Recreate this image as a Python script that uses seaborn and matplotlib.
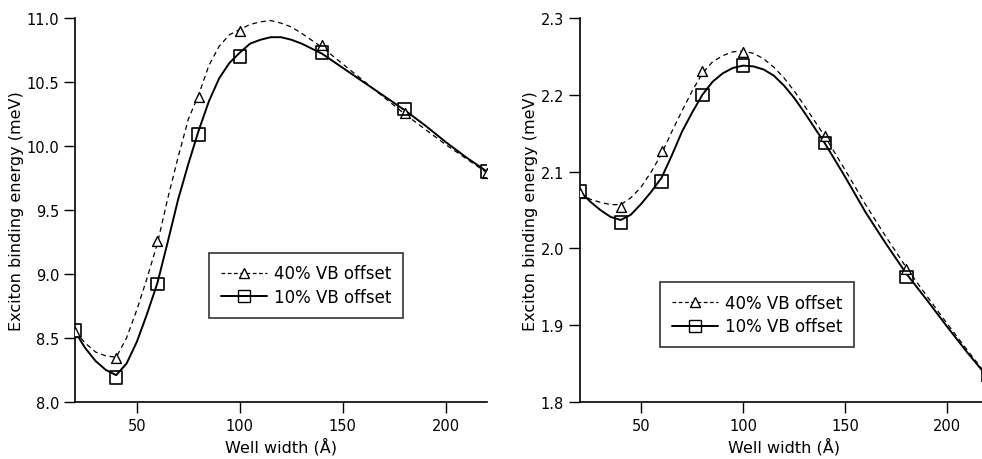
import numpy as np
import pandas as pd
import matplotlib
matplotlib.use("Agg")
import matplotlib.pyplot as plt
import seaborn as sns
from matplotlib.lines import Line2D

# --- data ---
# measured points (both panels use the same well widths)
well_width = [20, 40, 60, 80, 100, 140, 180, 220]

left_tri = [8.55, 8.34, 9.26, 10.38, 10.90, 10.79, 10.26, 9.79]   # 40% VB offset
left_sq = [8.56, 8.19, 8.92, 10.09, 10.70, 10.73, 10.29, 9.80]    # 10% VB offset
right_tri = [2.072, 2.054, 2.127, 2.231, 2.256, 2.146, 1.973, 1.835]
right_sq = [2.074, 2.034, 2.087, 2.200, 2.238, 2.137, 1.963, 1.834]

# smooth curves, values
curve_x = [20, 25, 30, 35, 40, 45, 50, 55, 60, 65, 70, 75, 80, 85, 90, 95, 100,
           105, 110, 115, 120, 125, 130, 140, 150, 160, 170, 180, 190, 200, 210, 220]

left_curve_40 = [8.55, 8.46, 8.39, 8.36, 8.35, 8.50, 8.72, 8.97, 9.24, 9.59, 9.91,
                 10.21, 10.40, 10.63, 10.78, 10.87, 10.91, 10.95, 10.97, 10.98,
                 10.96, 10.93, 10.88, 10.77, 10.64, 10.51, 10.38, 10.25, 10.13,
                 10.01, 9.90, 9.79]
left_curve_10 = [8.55, 8.42, 8.32, 8.25, 8.21, 8.30, 8.47, 8.69, 8.93, 9.25, 9.58,
                 9.86, 10.12, 10.35, 10.53, 10.65, 10.73, 10.80, 10.83, 10.85,
                 10.85, 10.83, 10.80, 10.72, 10.61, 10.50, 10.39, 10.28, 10.16,
                 10.03, 9.91, 9.80]

right_curve_40 = [2.072, 2.064, 2.060, 2.057, 2.057, 2.066, 2.080, 2.100, 2.123,
                  2.152, 2.179, 2.205, 2.228, 2.243, 2.251, 2.256, 2.257, 2.254,
                  2.247, 2.236, 2.222, 2.205, 2.186, 2.146, 2.102, 2.057, 2.015,
                  1.975, 1.938, 1.902, 1.867, 1.833]
right_curve_10 = [2.074, 2.061, 2.050, 2.041, 2.037, 2.044, 2.058, 2.074, 2.092,
                  2.121, 2.152, 2.177, 2.200, 2.217, 2.228, 2.235, 2.238, 2.237,
                  2.233, 2.225, 2.212, 2.196, 2.177, 2.137, 2.093, 2.047, 2.006,
                  1.967, 1.933, 1.898, 1.864, 1.832]

labels = ["40% VB offset", "10% VB offset"]

sns.set_style("ticks")
plt.rcParams['font.family'] = ['DejaVu Sans']
plt.rcParams['text.color'] = 'black'
plt.rcParams['axes.labelcolor'] = 'black'

fig = plt.figure(figsize=(9.82, 4.60), dpi=100)
ax1 = fig.add_axes([0.0764, 0.1239, 0.4196, 0.8348])
ax2 = fig.add_axes([0.5906, 0.1239, 0.4155, 0.8348])


def draw_panel(ax, c40, c10, tri, sq, ylim, yticks, legend_anchor):
    sns.lineplot(x=curve_x, y=c40, ax=ax, color="black", lw=0.9,
                 linestyle=(0, (4, 3)), zorder=2)
    sns.lineplot(x=curve_x, y=c10, ax=ax, color="black", lw=1.4, zorder=2)
    sns.scatterplot(x=well_width, y=tri, ax=ax, marker="^", s=50,
                    facecolor="white", edgecolor="black", linewidth=1.0, zorder=3)
    sns.scatterplot(x=well_width, y=sq, ax=ax, marker="s", s=80,
                    facecolor="none", edgecolor="black", linewidth=1.2, zorder=3)

    ax.set_xlim(20, 220)
    ax.set_ylim(*ylim)
    ax.set_xticks([50, 100, 150, 200])
    ax.set_yticks(yticks)
    ax.tick_params(direction="out", length=8, width=1, labelsize=10.5, colors="black")
    ax.set_xlabel("Well width (Å)", fontsize=11.5, labelpad=3, color="black")
    ax.set_ylabel("Exciton binding energy (meV)", fontsize=11.5, labelpad=2,
                  color="black")
    for s in ["left", "bottom"]:
        ax.spines[s].set_linewidth(1.2)
        ax.spines[s].set_color("black")
    sns.despine(ax=ax)

    handles = [
        Line2D([], [], color="black", lw=0.9, linestyle=(0, (3, 2)), marker="^",
               markersize=7, markerfacecolor="white", markeredgecolor="black"),
        Line2D([], [], color="black", lw=1.4, marker="s", markersize=9,
               markerfacecolor="none", markeredgecolor="black"),
    ]
    leg = ax.legend(handles, labels, loc="lower left", bbox_to_anchor=legend_anchor,
                    borderaxespad=0, frameon=True, fancybox=False, fontsize=12,
                    handlelength=2.8, handletextpad=0.4, borderpad=0.7,
                    labelspacing=0.35)
    leg.get_frame().set_edgecolor("black")
    leg.get_frame().set_linewidth(1.2)


draw_panel(ax1, left_curve_40, left_curve_10, left_tri, left_sq,
           (8.0, 11.0), [8.0, 8.5, 9.0, 9.5, 10.0, 10.5, 11.0], (0.325, 0.219))
draw_panel(ax2, right_curve_40, right_curve_10, right_tri, right_sq,
           (1.8, 2.3), [1.8, 1.9, 2.0, 2.1, 2.2, 2.3], (0.196, 0.143))

ax1.yaxis.set_major_formatter(matplotlib.ticker.FormatStrFormatter("%.1f"))
ax2.yaxis.set_major_formatter(matplotlib.ticker.FormatStrFormatter("%.1f"))

fig.savefig("out.png", dpi=100)
